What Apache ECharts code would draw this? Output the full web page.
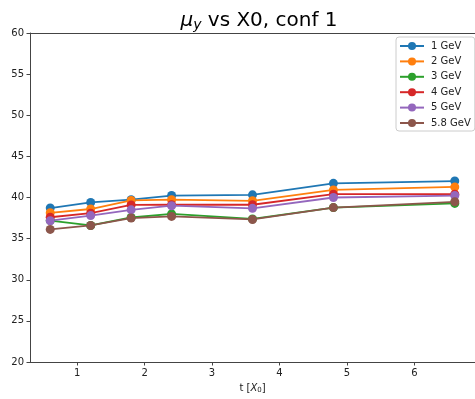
<!DOCTYPE html>
<html>
<head>
<meta charset="utf-8">
<script src="https://cdn.jsdelivr.net/npm/echarts@6/dist/echarts.min.js"></script>
<style>
  html, body { margin: 0; padding: 0; background: #fff; }
  #chart { width: 475px; height: 399px; }
</style>
</head>
<body>
<div id="chart"></div>
<script>
// Thickness in radiation lengths
const thickness = [0.6, 1.2, 1.8, 2.4, 3.6, 4.8, 6.6];

// Mean y position for each beam energy
const energyNames = ['1 GeV', '2 GeV', '3 GeV', '4 GeV', '5 GeV', '5.8 GeV'];
const mu1GeV  = [38.72, 39.40, 39.73, 40.24, 40.32, 41.72, 42.00];
const mu2GeV  = [38.14, 38.60, 39.64, 39.73, 39.60, 40.92, 41.28];
const mu3GeV  = [37.20, 36.60, 37.57, 38.00, 37.40, 38.77, 39.28];
const mu4GeV  = [37.60, 38.10, 39.10, 39.12, 39.12, 40.40, 40.40];
const mu5GeV  = [37.18, 37.80, 38.50, 39.00, 38.68, 40.00, 40.24];
const mu58GeV = [36.12, 36.60, 37.50, 37.70, 37.33, 38.77, 39.48];

const seriesValues = [mu1GeV, mu2GeV, mu3GeV, mu4GeV, mu5GeV, mu58GeV];
const palette = ['#1f77b4', '#ff7f0e', '#2ca02c', '#d62728', '#9467bd', '#8c564b'];

const xTicks = [1, 2, 3, 4, 5, 6];
const yTicks = { min: 20, max: 60, step: 5 };

const font = 'DejaVu Sans';
const axisColor = '#444';
const textColor = '#222';

const chart = echarts.init(document.getElementById('chart'), null, { renderer: 'canvas' });

const series = energyNames.map((name, i) => ({
  name: name,
  type: 'line',
  data: thickness.map((t, j) => [t, seriesValues[i][j]]),
  symbol: 'circle',
  symbolSize: 9,
  lineStyle: { width: 1.8, color: palette[i] },
  itemStyle: { color: palette[i] },
  emphasis: { disabled: true },
  animation: false
}));

chart.setOption({
  backgroundColor: '#fff',
  animation: false,
  title: {
    text: '{mu|μ}{sub|y}{t| vs X0, conf 1}',
    left: 254,
    textAlign: 'center',
    top: 4,
    textStyle: {
      rich: {
        mu: { fontFamily: font, fontSize: 20, fontStyle: 'italic', fontWeight: 'normal', color: '#000' },
        sub: { fontFamily: font, fontSize: 14, fontStyle: 'italic', fontWeight: 'normal', color: '#000', verticalAlign: 'bottom', padding: [9, 0, 0, 0] },
        t: { fontFamily: font, fontSize: 20, fontWeight: 'normal', color: '#000' }
      }
    }
  },
  grid: {
    left: 30,
    top: 33,
    width: 448.8,
    height: 334,
    show: false
  },
  legend: {
    orient: 'vertical',
    left: 396,
    top: 37,
    padding: [4, 4, 3, 3],
    itemWidth: 24,
    itemHeight: 10,
    itemGap: 5.4,
    borderColor: '#ccc',
    borderWidth: 1,
    borderRadius: 3,
    backgroundColor: '#fff',
    textStyle: { fontFamily: font, fontSize: 10, color: textColor, padding: [0, 0, 0, 2] },
    data: energyNames
  },
  xAxis: [{
    type: 'value',
    min: 0.3,
    max: 6.9,
    name: '{n|t [}{i|X}{s|0}{n|]}',
    nameLocation: 'middle',
    nameGap: 21,
    nameTextStyle: {
      rich: {
        n: { fontFamily: font, fontSize: 10, color: textColor },
        i: { fontFamily: font, fontSize: 10, fontStyle: 'italic', color: textColor },
        s: { fontFamily: font, fontSize: 7, color: textColor, verticalAlign: 'bottom', padding: [4, 0, 0, 0] }
      }
    },
    axisLine: { show: true, onZero: false, lineStyle: { color: axisColor, width: 1 } },
    axisTick: { show: true, length: 3.5, inside: false, customValues: xTicks, lineStyle: { color: axisColor } },
    axisLabel: { customValues: xTicks, margin: 6, fontFamily: font, fontSize: 10, color: textColor },
    splitLine: { show: false }
  }, {
    // top frame line
    type: 'value',
    position: 'top',
    min: 0.3,
    max: 6.9,
    axisLine: { show: true, onZero: false, lineStyle: { color: axisColor, width: 1 } },
    axisTick: { show: false },
    axisLabel: { show: false },
    splitLine: { show: false }
  }],
  yAxis: {
    type: 'value',
    min: yTicks.min,
    max: yTicks.max,
    interval: yTicks.step,
    axisLine: { show: true, onZero: false, lineStyle: { color: axisColor, width: 1 } },
    axisTick: { show: true, length: 3.5, lineStyle: { color: axisColor } },
    axisLabel: { margin: 6, fontFamily: font, fontSize: 10, color: textColor },
    splitLine: { show: false }
  },
  series: series
});
</script>
</body>
</html>
